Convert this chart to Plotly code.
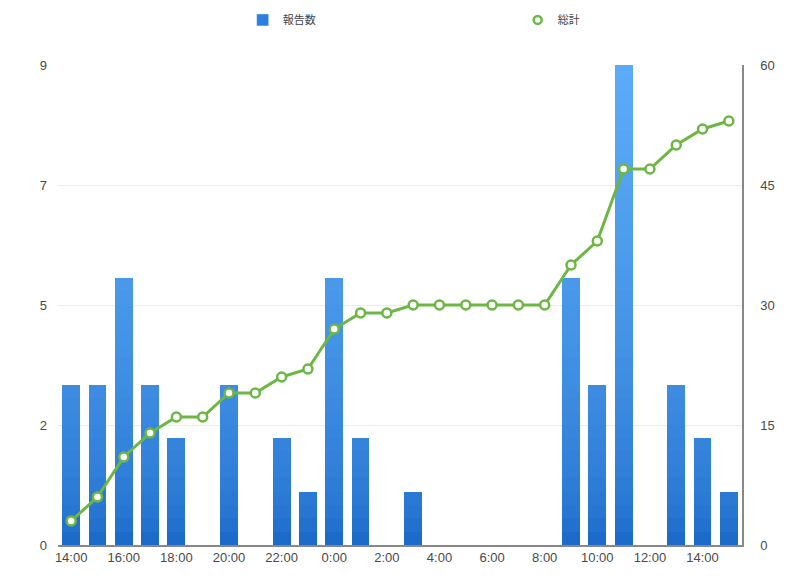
import plotly.graph_objects as go

hours = ["14:00","15:00","16:00","17:00","18:00","19:00","20:00","21:00","22:00","23:00",
         "0:00","1:00","2:00","3:00","4:00","5:00","6:00","7:00","8:00","9:00",
         "10:00","11:00","12:00","13:00","14:00","15:00"]
reports = [3,3,5,3,2,0,3,0,2,1,5,2,0,1,0,0,0,0,0,5,3,9,0,3,2,1]
total = [3,6,11,14,16,16,19,19,21,22,27,29,29,30,30,30,30,30,30,35,38,47,47,50,52,53]
left_tick_vals = [0, 2.25, 4.5, 6.75, 9]
left_tick_text = ["0", "2", "5", "7", "9"]
right_tick_vals = [0, 15, 30, 45, 60]
x_tick_labels = hours[::2]

x = list(range(len(hours)))

top_rgb = (92, 172, 248)
bot_rgb = (20, 98, 196)
nb = 36
ymax = 9.0
green = "#6cb744"

fig = go.Figure()
for k in range(nb, 0, -1):
    top = ymax * k / nb
    t = ((k - 0.5) / nb) ** 0.5
    c = tuple(int(round(b + (tp - b) * t)) for b, tp in zip(bot_rgb, top_rgb))
    fig.add_trace(go.Bar(
        x=x, y=[min(v, top) for v in reports],
        marker=dict(color="rgb(%d,%d,%d)" % c, line=dict(width=0)),
        width=0.68, showlegend=False, hoverinfo="skip",
    ))
fig.add_trace(go.Bar(x=[None], y=[None], name="報告数",
                     marker=dict(color="rgb(44,128,220)"), showlegend=True))
fig.add_trace(go.Scatter(
    x=x, y=total, name="総計", yaxis="y2", mode="lines+markers",
    line=dict(color=green, width=3), showlegend=False,
    marker=dict(symbol="circle", size=9, color="white",
                line=dict(color=green, width=2.5)),
))
fig.add_trace(go.Scatter(
    x=[None], y=[None], name="総計", yaxis="y2", mode="markers",
    marker=dict(symbol="circle", size=8, color="white",
                line=dict(color=green, width=2.5)),
))

fig.update_layout(
    width=800, height=586,
    margin=dict(l=50, r=66, t=57, b=49, autoexpand=False),
    paper_bgcolor="white", plot_bgcolor="white",
    barmode="overlay", bargap=0,
    font=dict(family="Liberation Sans, Noto Sans CJK JP, sans-serif", size=13, color="#4a4a4a"),
    legend=dict(orientation="h", x=0.27, y=1.094, xanchor="left", yanchor="middle",
                entrywidth=230, entrywidthmode="pixels",
                font=dict(family="Noto Sans CJK JP, sans-serif", size=11, color="#444")),
    xaxis=dict(range=[-0.5, 25.5], tickmode="array", tickvals=x[::2], ticktext=x_tick_labels,
               showgrid=False, showline=True, linecolor="#888", linewidth=1.5,
               ticks="", zeroline=False, fixedrange=True),
    yaxis=dict(range=[0, 9], tickmode="array", tickvals=left_tick_vals, ticktext=left_tick_text,
               showgrid=True, gridcolor="#ececec", gridwidth=1, zeroline=False,
               showline=False, ticks="", ticklabelstandoff=10),
    yaxis2=dict(range=[0, 60], tickmode="array", tickvals=right_tick_vals, overlaying="y",
                side="right", showgrid=False, zeroline=False, showline=True,
                linecolor="#888", linewidth=1.5, ticks="", ticklabelstandoff=14),
)
fig.write_html("out.html")
